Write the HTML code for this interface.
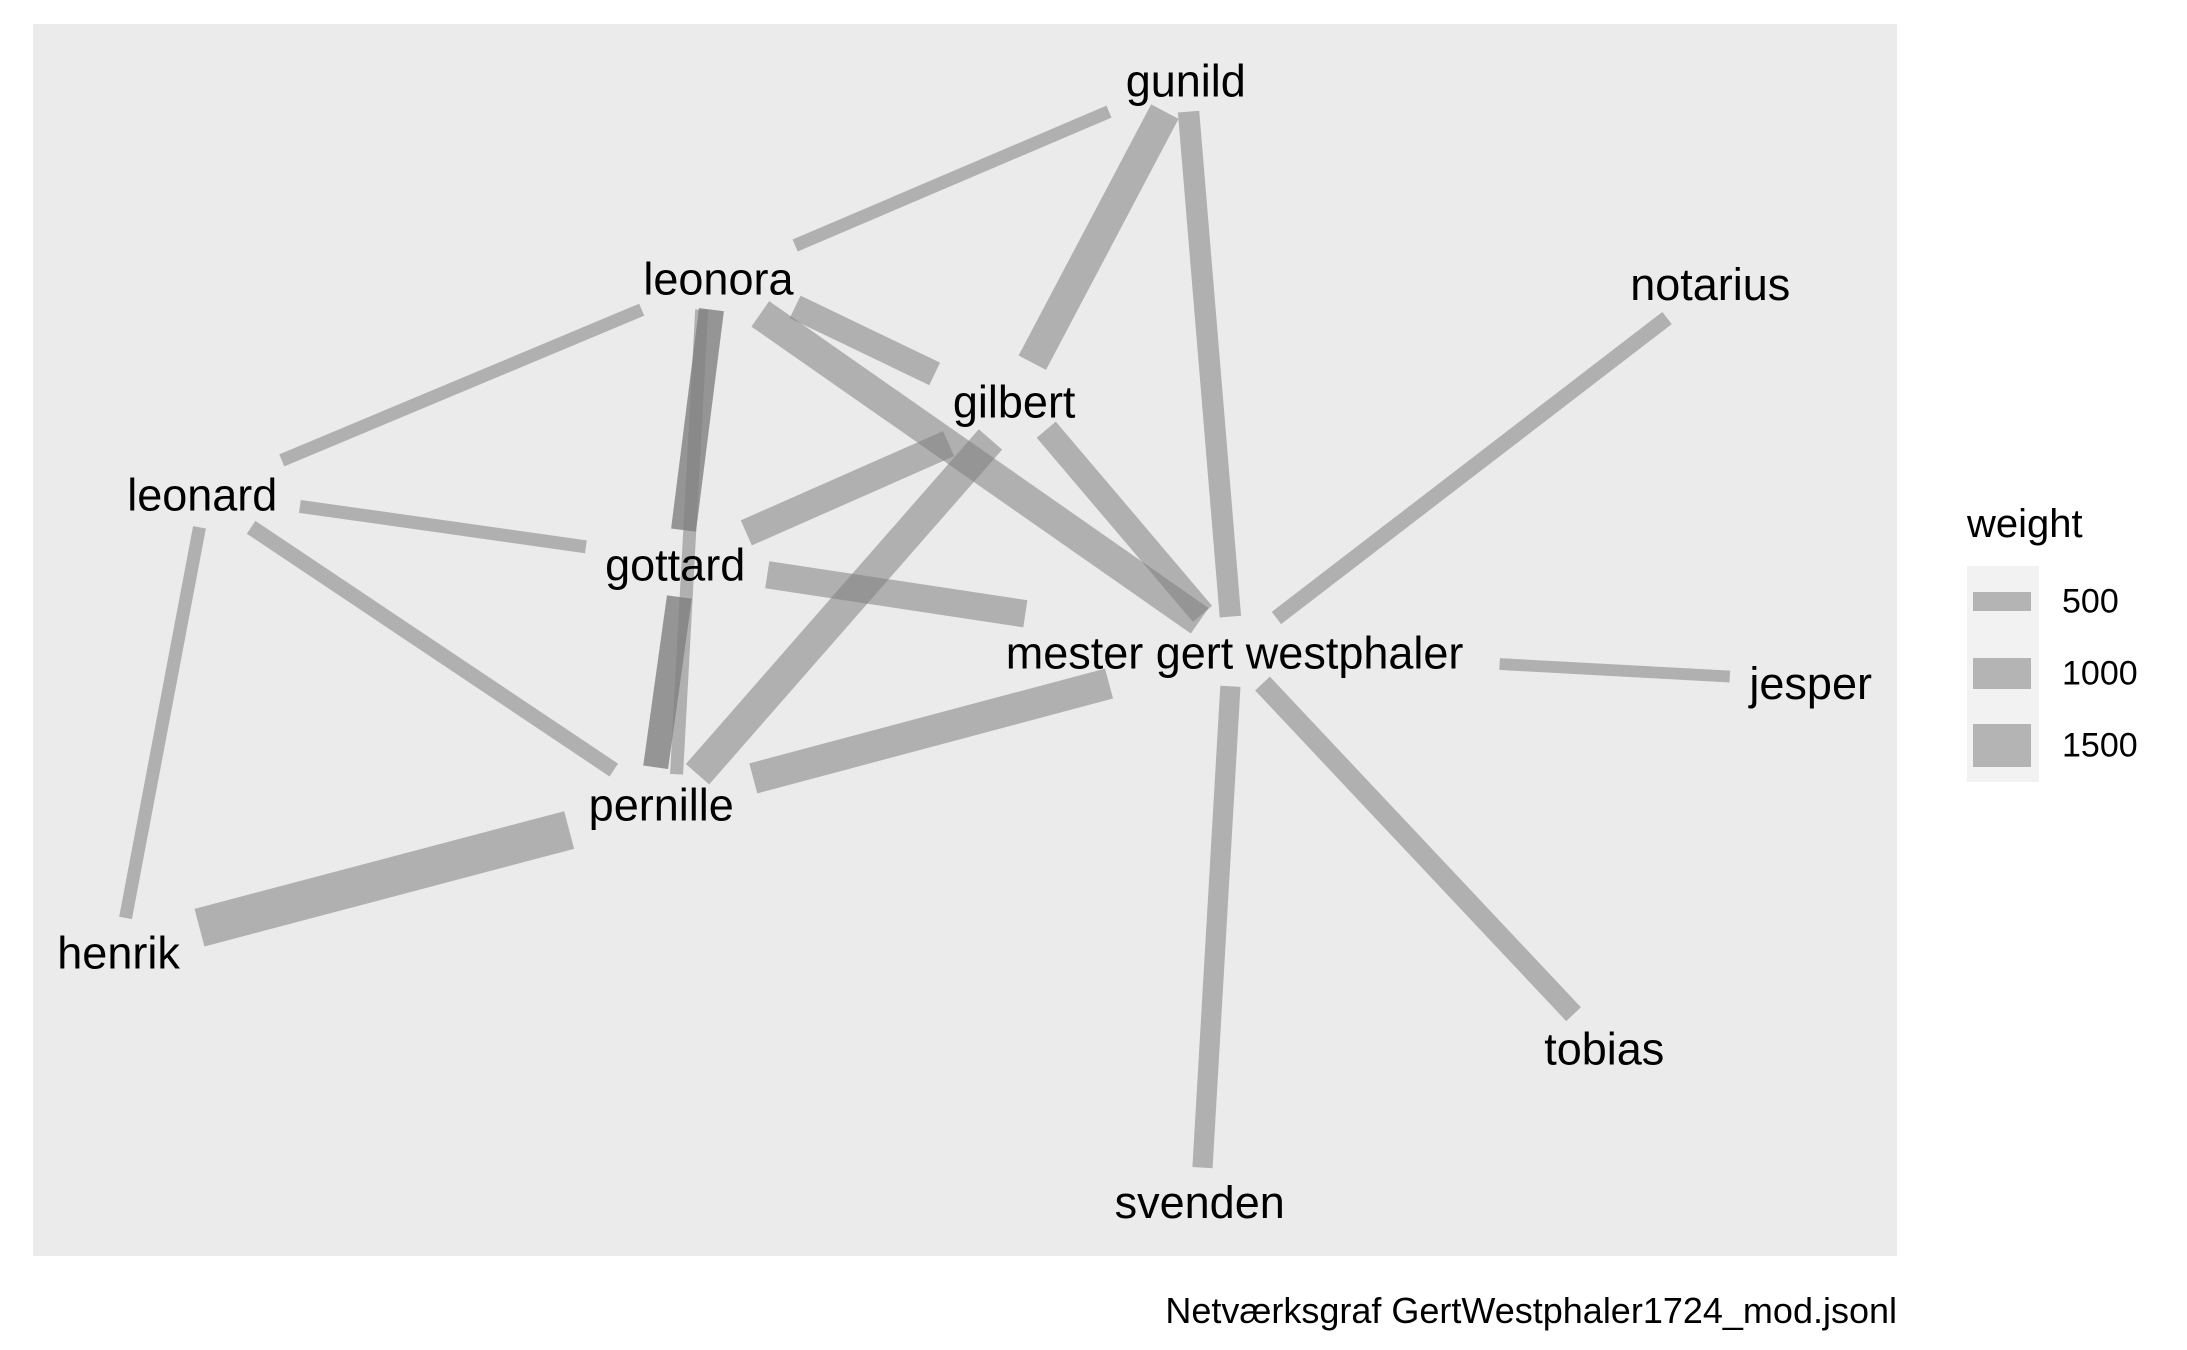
<!DOCTYPE html>
<html><head><meta charset="utf-8"><style>
html,body{margin:0;padding:0;background:#fff;}
svg{display:block;font-family:"Liberation Sans",sans-serif;}
</style></head><body>
<svg id="chart" width="2187" height="1350" viewBox="0 0 2187 1350" xmlns="http://www.w3.org/2000/svg">
<rect x="33" y="24" width="1864" height="1232" fill="#ebebeb"/>
<g id="edges"></g>
<g id="labels"></g>
<g>
<text x="1967" y="537" font-size="40">weight</text>
<rect x="1967" y="566" width="72" height="216" fill="#f2f2f2"/>
<g id="legend-keys"></g>
</g>
<text x="1897" y="1323" font-size="36" text-anchor="end">Netværksgraf GertWestphaler1724_mod.jsonl</text>
</svg>
<script>
const nodeNames = ["gunild","leonora","notarius","gilbert","leonard","gottard","mester gert westphaler","jesper","pernille","henrik","tobias","svenden"];
const nodeX = [850,515,1226,727,145,484,885,1298,474,85,1150,860];
const nodeY = [58,200,204,288,355,405,468,490,577,683,752,862];
const edgeX1 = [570,740,852,460,510,510,503,487,487,570,545,750,535,710,215,550,180,143,143,540,915,1075,905,882];
const edgeY1 = [176,260,80,222,222,222,222,428,428,220,225,308,382,315,363,412,378,378,665,558,443,476,490,492];
const edgeX2 = [795,835,882,202,490,490,485,470,470,670,860,862,680,500,420,735,440,90,408,795,1195,1240,1128,862];
const edgeY2 = [80,80,442,330,380,380,555,550,550,268,445,440,318,555,392,440,552,658,595,490,228,485,727,837];
const edgeWeight = [250,1000,600,250,750,750,250,750,750,750,1000,750,850,1000,250,850,350,250,1330,1000,350,200,550,550];
const legendBreaks = [500,1000,1500];
const legendLabels = ["500","1000","1500"];
const S = 1.395;
const sx = v => v*S;
const sy = v => v*S;
const sw = w => 7 + 0.024*w;
const NS="http://www.w3.org/2000/svg";
const eg=document.getElementById('edges');
for(let i=0;i<edgeWeight.length;i++){
  const l=document.createElementNS(NS,'line');
  l.setAttribute('x1',sx(edgeX1[i]));l.setAttribute('y1',sy(edgeY1[i]));
  l.setAttribute('x2',sx(edgeX2[i]));l.setAttribute('y2',sy(edgeY2[i]));
  l.setAttribute('stroke','#7f7f7f');l.setAttribute('stroke-opacity','0.55');
  l.setAttribute('stroke-width',sw(edgeWeight[i]));
  
  
  eg.appendChild(l);
}
const lg=document.getElementById('labels');
for(let i=0;i<nodeNames.length;i++){
  const t=document.createElementNS(NS,'text');
  t.setAttribute('x',sx(nodeX[i]));t.setAttribute('y',sy(nodeY[i]));
  t.setAttribute('text-anchor','middle');t.setAttribute('dominant-baseline','central');
  t.setAttribute('font-size','45');
  t.textContent=nodeNames[i];
  
  
  lg.appendChild(t);
}
const kg=document.getElementById('legend-keys');
const keyCY=[601.5,673.5,745.5];
for(let i=0;i<legendBreaks.length;i++){
  const h=sw(legendBreaks[i]);
  const r=document.createElementNS(NS,'rect');
  r.setAttribute('x',1973);r.setAttribute('width',58);
  r.setAttribute('y',keyCY[i]-h/2);r.setAttribute('height',h);
  r.setAttribute('fill','#b4b4b4');
  
  
  kg.appendChild(r);
  const t=document.createElementNS(NS,'text');
  t.setAttribute('x',2062);t.setAttribute('y',keyCY[i]);
  t.setAttribute('dominant-baseline','central');t.setAttribute('font-size','34');
  t.textContent=legendLabels[i];
  
  
  kg.appendChild(t);
}
</script>
</body></html>
